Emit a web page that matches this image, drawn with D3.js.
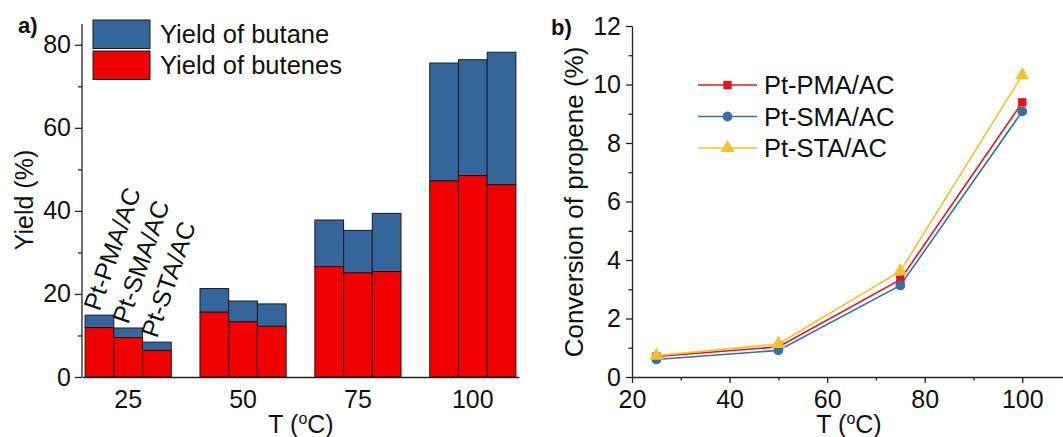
<!DOCTYPE html>
<html><head><meta charset="utf-8">
<script src="https://cdn.jsdelivr.net/npm/d3@7"></script>
<style>
body{margin:0;background:#fff;}
svg{display:block;font-family:"Liberation Sans",Arial,sans-serif;}
</style></head>
<body>
<svg id="c" width="1063" height="437"></svg>
<script>
// ---- data ----
const temps = ["25", "50", "75", "100"];
const catalysts = ["Pt-PMA/AC", "Pt-SMA/AC", "Pt-STA/AC"];
const butenesPMA = [11.9, 15.6, 26.6, 47.2];
const butenesSMA = [9.5, 13.3, 25.1, 48.5];
const butenesSTA = [6.4, 12.2, 25.4, 46.3];
const butanePMA = [3.0, 5.7, 11.2, 28.4];
const butaneSMA = [2.3, 5.0, 10.2, 27.9];
const butaneSTA = [2.0, 5.4, 14.0, 31.9];
const yTicksA = [0, 20, 40, 60, 80];
const legendA = ["Yield of butane", "Yield of butenes"];

const tempNum = [25, 50, 75, 100];
const convPMA = [0.70, 1.03, 3.33, 9.39];
const convSMA = [0.60, 0.91, 3.13, 9.08];
const convSTA = [0.73, 1.13, 3.62, 10.32];
const xTicksB = [20, 40, 60, 80, 100];
const yTicksB = [0, 2, 4, 6, 8, 10, 12];

const svg = d3.select("#c");
const FS = 25;
const FF = "Liberation Sans, Arial, sans-serif";
const BLUE = "#35669b", RED = "#f00000";

// ---- panel a ----
const ax0 = 82, ax1 = 519, ay0 = 377, ay1 = 24;
const yA = d3.scaleLinear().domain([0, 85]).range([ay0, ay1]);
const xA = d3.scaleBand().domain(temps).range([ax0, ax1]).paddingInner(0.25).paddingOuter(0.027);
const xSub = d3.scaleBand().domain(catalysts).range([0, xA.bandwidth()]);
const butenes = [butenesPMA, butenesSMA, butenesSTA];
const butane = [butanePMA, butaneSMA, butaneSTA];

const ga = svg.append("g");
temps.forEach((t, i) => {
  catalysts.forEach((c, j) => {
    const x = xA(t) + xSub(c), w = xSub.bandwidth();
    const b = butenes[j][i], u = butane[j][i];
    ga.append("rect").attr("x", x).attr("width", w)
      .attr("y", yA(b + u)).attr("height", yA(b) - yA(b + u))
      .attr("fill", BLUE).attr("stroke", "#1a1a2a").attr("stroke-width", 1);
    ga.append("rect").attr("x", x).attr("width", w)
      .attr("y", yA(b)).attr("height", yA(0) - yA(b))
      .attr("fill", RED).attr("stroke", "#2a1010").attr("stroke-width", 1);
    if (i === 0) {
      ga.append("text").text(c)
        .attr("transform", `translate(${x + w / 2},${yA(b + u) - 3}) rotate(-71)`)
        .attr("font-size", 25).attr("fill", "#111");
    }
  });
});

// y axis a
const yAxisA = d3.axisLeft(yA).tickValues(yTicksA).tickSize(7).tickPadding(4).tickSizeOuter(0);
const gya = svg.append("g").attr("transform", `translate(${ax0},0)`).call(yAxisA);
gya.selectAll(".tick text").attr("font-size", FS).attr("font-family", FF).attr("fill", "#111");
gya.select(".domain").attr("d", `M0,${ay0}V${ay1}`);
gya.selectAll("line,path").attr("stroke", "#222").attr("stroke-width", 1.3);
const yMinorA = d3.axisLeft(yA).tickValues([10, 30, 50, 70]).tickSize(4).tickFormat("");
const gyam = svg.append("g").attr("transform", `translate(${ax0},0)`).call(yMinorA);
gyam.select(".domain").remove();
gyam.selectAll("line").attr("stroke", "#222").attr("stroke-width", 1.3);

// x axis a
const xAxisA = d3.axisBottom(xA).tickSize(0).tickPadding(13).tickSizeOuter(0);
const gxa = svg.append("g").attr("transform", `translate(0,${ay0})`).call(xAxisA);
gxa.selectAll(".tick text").attr("font-size", FS).attr("font-family", FF).attr("fill", "#111");
gxa.select(".domain").attr("stroke", "#222").attr("stroke-width", 1.3);

// legend a
const legColors = [BLUE, RED];
legendA.forEach((l, i) => {
  svg.append("rect").attr("x", 93).attr("y", 20 + i * 31).attr("width", 57).attr("height", 28.5)
    .attr("fill", legColors[i]).attr("stroke", "#1a1a1a").attr("stroke-width", 1);
  svg.append("text").text(l).attr("x", 160).attr("y", 43 + i * 30.5)
    .attr("font-size", 25.5).attr("fill", "#111");
});

// labels a
svg.append("text").text("a)").attr("x", 18).attr("y", 33).attr("font-size", 22).attr("font-weight", "bold").attr("fill", "#111");
svg.append("text").text("Yield (%)").attr("transform", `translate(33,200) rotate(-90)`)
  .attr("text-anchor", "middle").attr("font-size", 25).attr("fill", "#111");
const tA = svg.append("text").attr("x", 301).attr("y", 433).attr("text-anchor", "middle").attr("font-size", 25).attr("fill", "#111");
tA.append("tspan").text("T (");
tA.append("tspan").text("o").attr("font-size", 16).attr("dy", -9);
tA.append("tspan").text("C)").attr("dy", 9);

// ---- panel b ----
const bx0 = 632, bx1 = 1063, by0 = 377;
const xB = d3.scaleLinear().domain([20, 108.35]).range([bx0, bx1]);
const yB = d3.scaleLinear().domain([0, 12]).range([by0, 26]);

const xAxisB = d3.axisBottom(xB).tickValues(xTicksB).tickSize(6).tickPadding(7).tickSizeOuter(0);
const gxb = svg.append("g").attr("transform", `translate(0,${by0})`).call(xAxisB);
gxb.selectAll(".tick text").attr("font-size", FS).attr("font-family", FF).attr("fill", "#111");
gxb.selectAll("line,path").attr("stroke", "#222").attr("stroke-width", 1.3);
const xMinorB = d3.axisBottom(xB).tickValues([30, 50, 70, 90]).tickSize(3.5).tickFormat("");
const gxbm = svg.append("g").attr("transform", `translate(0,${by0})`).call(xMinorB);
gxbm.select(".domain").remove();
gxbm.selectAll("line").attr("stroke", "#222").attr("stroke-width", 1.3);

const yAxisB = d3.axisLeft(yB).tickValues(yTicksB).tickSize(6).tickPadding(5).tickSizeOuter(0);
const gyb = svg.append("g").attr("transform", `translate(${bx0},0)`).call(yAxisB);
gyb.selectAll(".tick text").attr("font-size", FS).attr("font-family", FF).attr("fill", "#111");
gyb.selectAll("line,path").attr("stroke", "#222").attr("stroke-width", 1.3);
const yMinorB = d3.axisLeft(yB).tickValues([1, 3, 5, 7, 9, 11]).tickSize(3.5).tickFormat("");
const gybm = svg.append("g").attr("transform", `translate(${bx0},0)`).call(yMinorB);
gybm.select(".domain").remove();
gybm.selectAll("line").attr("stroke", "#222").attr("stroke-width", 1.3);

const series = [
  {name: catalysts[0], vals: convPMA, color: "#e2141e", sym: d3.symbolSquare, size: 70},
  {name: catalysts[1], vals: convSMA, color: "#3a6ea5", sym: d3.symbolCircle, size: 75},
  {name: catalysts[2], vals: convSTA, color: "#f3c22f", sym: d3.symbolTriangle, size: 85}
];
const line = d3.line().x((d, i) => xB(tempNum[i])).y(d => yB(d));
series.forEach(s => {
  svg.append("path").attr("d", line(s.vals)).attr("fill", "none").attr("stroke", s.color).attr("stroke-width", 1.6);
});
series.forEach(s => {
  s.vals.forEach((v, i) => {
    svg.append("path").attr("d", d3.symbol().type(s.sym).size(s.size)())
      .attr("transform", `translate(${xB(tempNum[i])},${yB(v)})`).attr("fill", s.color);
  });
});
// legend b
series.forEach((s, i) => {
  const y = 85 + i * 31.5;
  svg.append("line").attr("x1", 698).attr("x2", 757).attr("y1", y).attr("y2", y).attr("stroke", s.color).attr("stroke-width", 1.6);
  svg.append("path").attr("d", d3.symbol().type(s.sym).size(s.size)()).attr("transform", `translate(727.5,${y})`).attr("fill", s.color);
  svg.append("text").text(s.name).attr("x", 764).attr("y", y + 9).attr("font-size", 25.5).attr("fill", "#111");
});

svg.append("text").text("b)").attr("x", 551).attr("y", 35).attr("font-size", 22).attr("font-weight", "bold").attr("fill", "#111");
svg.append("text").text("Conversion of propene (%)").attr("transform", `translate(583,202) rotate(-90)`)
  .attr("text-anchor", "middle").attr("font-size", 26).attr("fill", "#111");
const tB = svg.append("text").attr("x", 849).attr("y", 433).attr("text-anchor", "middle").attr("font-size", 25).attr("fill", "#111");
tB.append("tspan").text("T (");
tB.append("tspan").text("o").attr("font-size", 16).attr("dy", -9);
tB.append("tspan").text("C)").attr("dy", 9);
</script>
</body></html>
